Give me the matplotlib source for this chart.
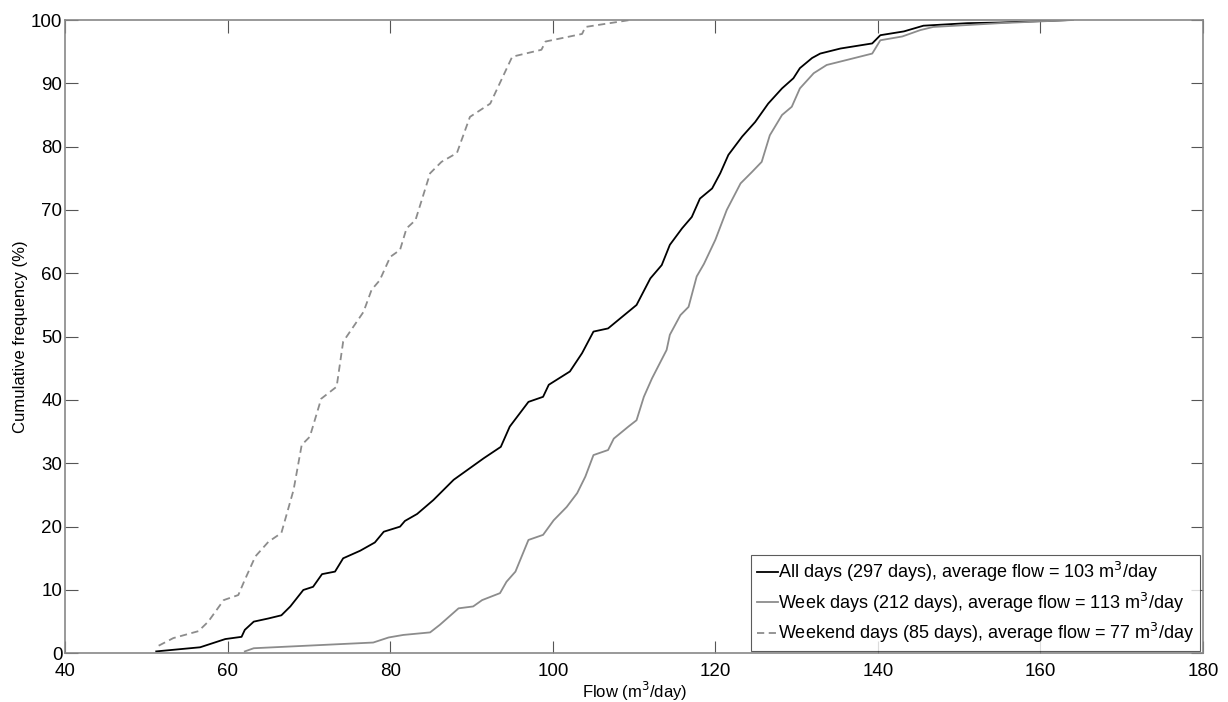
import matplotlib
matplotlib.use("Agg")
import matplotlib.pyplot as plt

plt.rcParams["font.family"] = ["Liberation Sans", "DejaVu Sans"]

# cumulative frequency curves (flow m3/day, %)
all_flow = [51.2, 56.6, 59.7, 61.7, 62.1, 63.2, 65.0, 66.6, 67.7, 69.3, 70.5, 71.6,
            73.2, 74.2, 76.3, 78.1, 79.2, 81.2, 81.8, 83.3, 85.3, 87.8, 91.5, 93.6,
            94.7, 97.0, 98.8, 99.5, 102.1, 103.6, 105.0, 106.8, 108.5, 110.3, 112.0,
            113.4, 114.4, 115.9, 117.1, 118.1, 119.6, 120.6, 121.6, 123.3, 124.9,
            126.5, 128.2, 129.6, 130.4, 131.9, 132.9, 135.4, 139.3, 140.3, 143.2,
            145.6, 151.0, 155.0, 163.7]
all_cum = [0.3, 0.95, 2.25, 2.6, 3.7, 5.0, 5.5, 6.0, 7.4, 10.0, 10.5, 12.5,
           12.9, 15.0, 16.2, 17.5, 19.2, 20.0, 20.9, 22.0, 24.2, 27.4, 30.8, 32.6,
           35.8, 39.7, 40.5, 42.4, 44.5, 47.4, 50.8, 51.3, 53.1, 55.0, 59.2,
           61.3, 64.5, 67.1, 68.9, 71.8, 73.4, 75.8, 78.7, 81.6, 83.9,
           86.8, 89.2, 90.8, 92.4, 94.0, 94.7, 95.5, 96.3, 97.6, 98.2,
           99.1, 99.5, 99.6, 100.0]

week_flow = [62.1, 63.2, 77.9, 79.8, 81.6, 84.9, 86.1, 88.4, 90.2, 91.3, 93.5, 94.3,
             95.4, 97.0, 98.8, 100.1, 101.7, 103.0, 104.0, 105.0, 106.8, 107.5,
             109.3, 110.3, 111.2, 112.2, 114.0, 114.4, 115.7, 116.7, 117.7, 118.6,
             120.0, 121.4, 123.1, 124.5, 125.7, 126.7, 128.2, 129.4, 130.4, 132.1,
             133.7, 136.2, 139.3, 140.3, 143.0, 145.2, 146.8, 155.0, 164.0]
week_cum = [0.3, 0.8, 1.7, 2.5, 2.9, 3.3, 4.5, 7.1, 7.4, 8.4, 9.5, 11.3,
            12.9, 17.9, 18.7, 21.0, 23.1, 25.3, 27.9, 31.3, 32.1, 33.9,
            35.8, 36.8, 40.5, 43.4, 47.9, 50.3, 53.4, 54.7, 59.5, 61.5,
            65.3, 70.0, 74.2, 76.0, 77.6, 81.8, 85.0, 86.3, 89.2, 91.6,
            92.9, 93.7, 94.7, 96.8, 97.4, 98.4, 98.9, 99.5, 100.0]

wkend_flow = [51.5, 53.3, 56.4, 57.6, 59.5, 61.3, 62.1, 63.4, 65.0, 66.6, 68.1, 69.1,
              70.1, 71.5, 73.4, 74.2, 75.9, 76.7, 77.7, 78.7, 80.0, 81.2, 82.0, 83.1,
              84.9, 86.3, 88.2, 89.8, 92.3, 95.0, 98.6, 99.1, 103.6, 104.0, 109.5]
wkend_cum = [1.2, 2.4, 3.5, 5.0, 8.4, 9.2, 11.6, 15.3, 17.6, 19.0, 25.8, 32.9,
             34.2, 40.2, 42.1, 49.2, 52.4, 53.9, 57.4, 58.9, 62.6, 63.7, 67.1, 68.4,
             75.8, 77.6, 79.0, 84.7, 86.8, 94.2, 95.3, 96.6, 97.8, 98.9, 100.0]

labels = ["All days (297 days), average flow = 103 m$^3$/day",
          "Week days (212 days), average flow = 113 m$^3$/day",
          "Weekend days (85 days), average flow = 77 m$^3$/day"]

fig = plt.figure(figsize=(12.28, 7.02), dpi=100)
ax = fig.add_axes([65.2 / 1228, 1 - 653.3 / 702, (1203 - 65.2) / 1228, (653.3 - 20) / 702])

ax.plot(all_flow, all_cum, color="black", lw=1.3, label=labels[0])
ax.plot(week_flow, week_cum, color="#8c8c8c", lw=1.3, label=labels[1])
ax.plot(wkend_flow, wkend_cum, color="#8c8c8c", lw=1.3, ls=(0, (4, 2.5)), label=labels[2])

ax.set_xlim(40, 180)
ax.set_ylim(0, 100)
ax.set_xticks(range(40, 181, 20))
ax.set_yticks(range(0, 101, 10))
ax.tick_params(direction="in", length=9, width=0.8, color="#555555", labelsize=13.5,
               top=True, right=True)
ax.tick_params(axis="x", pad=7)
ax.tick_params(axis="y", pad=2)
for s in ax.spines.values():
    s.set_color("#888888")
    s.set_linewidth(1.2)

ax.set_xlabel("Flow (m$^3$/day)", fontsize=12, labelpad=0)
ax.set_ylabel("Cumulative frequency (%)", fontsize=12, labelpad=2)

leg = ax.legend(loc="lower right", fontsize=13, frameon=True, fancybox=False,
                handlelength=1.15, handletextpad=0.05, borderpad=0.3, labelspacing=0.35,
                borderaxespad=0.15)
leg.get_frame().set_edgecolor("#333333")
leg.get_frame().set_linewidth(0.8)

fig.savefig("out.png", dpi=100)
